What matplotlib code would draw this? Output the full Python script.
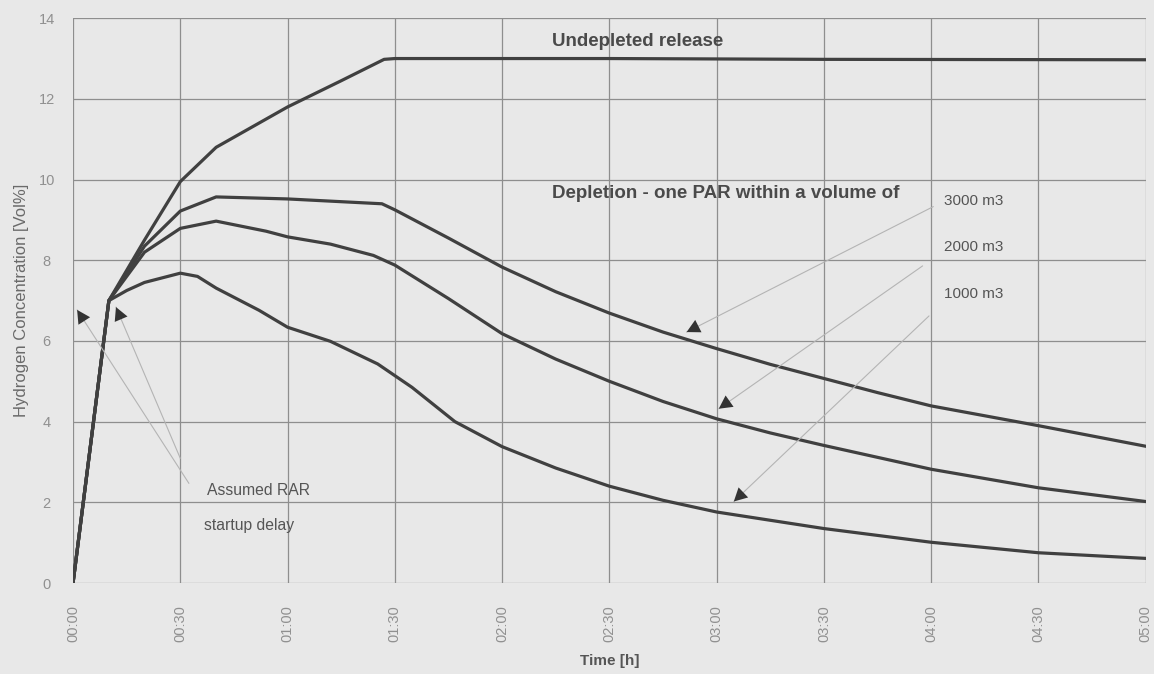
import matplotlib
matplotlib.use("Agg")
import matplotlib.pyplot as plt

# time in hours, hydrogen concentration in Vol%
undepleted_t = [0, 0.167, 0.333, 0.5, 0.667, 1.0, 1.25, 1.45, 1.5, 2.5, 3.5, 5.0]
undepleted_v = [0, 7.0, 8.5, 9.95, 10.8, 11.8, 12.45, 12.98, 13.0, 13.0, 12.98, 12.97]

par3000_t = [0, 0.167, 0.333, 0.5, 0.667, 1.0, 1.44, 1.5, 1.75, 2.0, 2.25, 2.5, 2.75,
             3.0, 3.25, 3.5, 3.75, 4.0, 4.5, 5.0]
par3000_v = [0, 7.0, 8.35, 9.22, 9.57, 9.52, 9.4, 9.25, 8.55, 7.83, 7.22, 6.69, 6.22,
             5.81, 5.42, 5.07, 4.72, 4.39, 3.9, 3.39]

par2000_t = [0, 0.167, 0.333, 0.5, 0.667, 0.9, 1.0, 1.2, 1.4, 1.5, 1.75, 2.0, 2.25,
             2.5, 2.75, 3.0, 3.25, 3.5, 4.0, 4.5, 5.0]
par2000_v = [0, 7.0, 8.2, 8.79, 8.97, 8.72, 8.58, 8.4, 8.12, 7.88, 7.05, 6.18, 5.55,
             5.0, 4.5, 4.07, 3.72, 3.41, 2.82, 2.36, 2.02]

par1000_t = [0, 0.167, 0.25, 0.333, 0.5, 0.58, 0.667, 0.867, 1.0, 1.2, 1.42, 1.58, 1.78,
             2.0, 2.25, 2.5, 2.75, 3.0, 3.5, 4.0, 4.5, 5.0]
par1000_v = [0, 7.0, 7.25, 7.45, 7.68, 7.6, 7.31, 6.76, 6.34, 5.99, 5.43, 4.85, 4.0,
             3.38, 2.85, 2.4, 2.05, 1.76, 1.35, 1.01, 0.75, 0.61]

x_ticks = [0, 0.5, 1.0, 1.5, 2.0, 2.5, 3.0, 3.5, 4.0, 4.5, 5.0]
x_tick_labels = ["00:00", "00:30", "01:00", "01:30", "02:00", "02:30",
                 "03:00", "03:30", "04:00", "04:30", "05:00"]
y_ticks = [0, 2, 4, 6, 8, 10, 12, 14]

volume_labels = ["3000 m3", "2000 m3", "1000 m3"]

BG = "#e8e8e8"
LINE = "#404040"
GRID = "#8e8e8e"
TEXT = "#4a4a4a"

plt.rcParams["font.family"] = ["Liberation Sans", "DejaVu Sans"]

fig = plt.figure(figsize=(11.54, 6.74), dpi=100, facecolor=BG)
ax = fig.add_axes([0.0633, 0.135, 0.9295, 0.838])
ax.set_facecolor(BG)

for t, v in [(undepleted_t, undepleted_v), (par3000_t, par3000_v),
             (par2000_t, par2000_v), (par1000_t, par1000_v)]:
    ax.plot(t, v, color=LINE, lw=2.3, solid_joinstyle="round", zorder=3)

ax.set_xlim(0, 5)
ax.set_ylim(0, 14)
ax.set_xticks(x_ticks)
ax.set_xticklabels(x_tick_labels, rotation=90, fontsize=10.5, color="#909090")
ax.set_yticks(y_ticks)
ax.set_yticklabels([str(v) for v in y_ticks], fontsize=10.5, color="#909090", ha="center")
ax.tick_params(length=0)
ax.tick_params(axis="x", pad=16)
ax.tick_params(axis="y", pad=19)
ax.grid(True, color=GRID, lw=0.9)
for s in ax.spines.values():
    s.set_visible(False)

ax.set_ylabel("Hydrogen Concentration [Vol%]", fontsize=12, color="#6a6a6a")
ax.yaxis.set_label_coords(-0.041, 0.5)
ax.set_xlabel("Time [h]", fontsize=11, fontweight="bold", color="#555555")
ax.xaxis.set_label_coords(0.5, -0.125)

ax.text(2.234, 13.42, "Undepleted release", fontsize=13.5, fontweight="bold",
        color=TEXT, va="center")
ax.text(2.234, 9.65, "Depletion - one PAR within a volume of", fontsize=13.5,
        fontweight="bold", color=TEXT, va="center")

label_pos = [(4.06, 9.47), (4.06, 8.33), (4.06, 7.17)]
leader_start = [(4.01, 9.33), (3.96, 7.86), (3.99, 6.62)]
arrow_tip = [(2.86, 6.22), (3.01, 4.32), (3.08, 2.02)]
for lab, (lx, ly), (sx, sy), (tx, ty) in zip(volume_labels, label_pos, leader_start, arrow_tip):
    ax.text(lx, ly, lab, fontsize=11, color="#555555", va="center")
    ax.annotate("", xy=(tx, ty), xytext=(sx, sy),
                arrowprops=dict(arrowstyle="-", color="#b4b4b4", lw=0.8,
                                shrinkA=0, shrinkB=0))
    ax.annotate("", xy=(tx, ty), xytext=(tx + (sx - tx) * 0.06, ty + (sy - ty) * 0.06),
                arrowprops=dict(arrowstyle="-|>,head_length=0.95,head_width=0.5",
                                color="#333333", lw=0, shrinkA=0, shrinkB=0), zorder=4)

ax.text(0.626, 2.3, "Assumed RAR", fontsize=11.3, color="#555555", va="center")
ax.text(0.61, 1.43, "startup delay", fontsize=11.3, color="#555555", va="center")
for (sx, sy), (tx, ty) in zip([(0.54, 2.47), (0.5, 3.09)], [(0.019, 6.77), (0.2, 6.84)]):
    ax.annotate("", xy=(tx, ty), xytext=(sx, sy),
                arrowprops=dict(arrowstyle="-", color="#b4b4b4", lw=0.8,
                                shrinkA=0, shrinkB=0))
    ax.annotate("", xy=(tx, ty), xytext=(tx + (sx - tx) * 0.12, ty + (sy - ty) * 0.12),
                arrowprops=dict(arrowstyle="-|>,head_length=0.95,head_width=0.5",
                                color="#333333", lw=0, shrinkA=0, shrinkB=0), zorder=4)

fig.savefig("out.png", dpi=100, facecolor=BG)
